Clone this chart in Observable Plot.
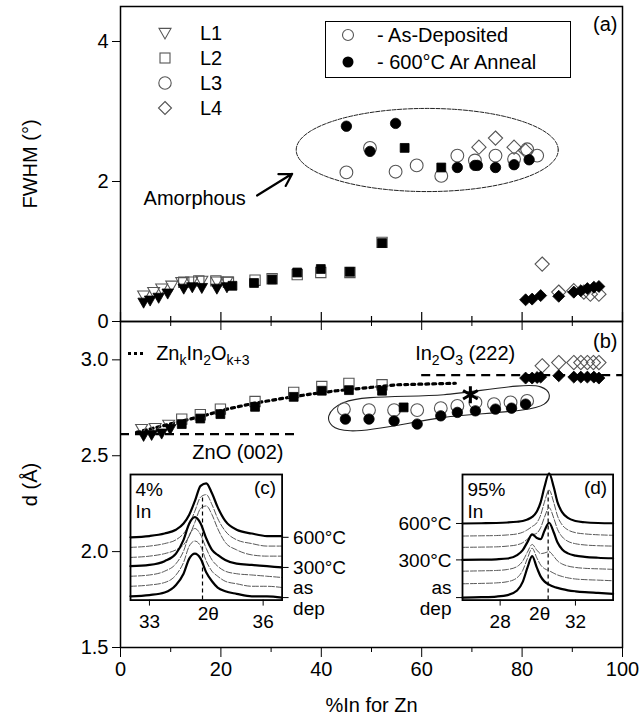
<!DOCTYPE html>
<html><head><meta charset="utf-8">
<script src="https://cdn.jsdelivr.net/npm/d3@7"></script>
<script src="https://cdn.jsdelivr.net/npm/@observablehq/plot@0.6"></script>
<style>
body{margin:0;background:#fff;font-family:"Liberation Sans",Arial,sans-serif;}
#wrap{position:relative;width:642px;height:719px;overflow:hidden;background:#fff;}
#wrap > *{position:absolute;}
sub{font-size:70%;vertical-align:-0.35em;line-height:0;}
</style></head><body><div id="wrap"></div>
<script>
// ---------------- DATA ----------------
const xDomain = [0, 100];
const xMajor = [0, 20, 40, 60, 80, 100];
const xMinor = [10, 30, 50, 70, 90];
const fwhmTicks = [0, 2, 4];
const dTicks = [1.5, 2.0, 2.5, 3.0];
const legendLabels = ["L1", "L2", "L3", "L4"];
const legendBoxLabels = ["- As-Deposited", "- 600°C Ar Anneal"];

// (a) FWHM (deg) vs %In  [ %In , FWHM ]
const fwhm_L1_asdep = [[4.6,0.37],[6.6,0.42],[8.2,0.47],[10.2,0.51],[12.2,0.56],[14.2,0.57],[16.2,0.58],[19.2,0.57],[21.2,0.57]];
const fwhm_L1_ann   = [[4.6,0.27],[5.9,0.30],[7.6,0.34],[9.4,0.40],[12.6,0.47],[14.3,0.49],[16.2,0.48],[19.2,0.47],[21.2,0.49]];
const fwhm_L2_asdep = [[12.6,0.56],[15.6,0.58],[19.0,0.58],[21.5,0.56],[26.8,0.59],[30.2,0.61],[35.2,0.67],[39.9,0.70],[45.7,0.70],[52.1,1.13]];
const fwhm_L2_ann   = [[22.3,0.51],[26.6,0.55],[30.2,0.60],[35.2,0.70],[39.9,0.75],[45.7,0.71],[52.1,1.12],[56.6,2.48],[63.9,2.20]];
const fwhm_L3_asdep = [[45.0,2.13],[49.7,2.48],[54.8,2.14],[59.0,2.23],[63.9,2.08],[67.1,2.37],[70.6,2.30],[74.7,2.37],[78.4,2.32],[81.0,2.46],[83.0,2.37]];
const fwhm_L3_ann   = [[45.0,2.79],[54.8,2.83],[49.7,2.43],[67.1,2.20],[70.6,2.23],[71.1,2.23],[74.7,2.20],[78.4,2.24],[81.4,2.31]];
const fwhm_L4_asdep = [[71.4,2.49],[74.7,2.62],[78.4,2.49],[80.7,2.44],[84.0,0.82],[87.3,0.42],[90.3,0.44],[92.3,0.42],[93.6,0.39],[95.3,0.39]];
const fwhm_L4_ann   = [[80.7,0.31],[82.0,0.32],[83.7,0.37],[87.3,0.36],[90.3,0.42],[91.7,0.44],[93.0,0.47],[94.3,0.49],[95.3,0.50]];

// (b) d-spacing (Å) vs %In  [ %In , d ]
const d_L1_asdep = [[4.2,2.639],[6.9,2.644],[9.6,2.661]];
const d_L1_ann   = [[4.6,2.604],[6.2,2.609],[8.2,2.616],[9.9,2.639]];
const d_L2_asdep = [[12.2,2.691],[15.9,2.714],[19.9,2.743],[26.8,2.783],[34.5,2.830],[40.1,2.861],[45.5,2.877],[52.1,2.870]];
const d_L2_ann   = [[12.2,2.665],[15.9,2.694],[19.9,2.717],[26.8,2.755],[34.5,2.807],[40.1,2.839],[45.5,2.842],[52.1,2.839],[56.4,2.752]];
const d_L3_asdep = [[44.5,2.743],[49.5,2.738],[54.5,2.738],[59.1,2.738],[63.8,2.748],[67.1,2.760],[70.7,2.778],[74.4,2.769],[77.7,2.778],[81.0,2.786]];
const d_L3_ann   = [[44.8,2.691],[49.5,2.691],[54.5,2.682],[59.1,2.665],[63.8,2.708],[67.1,2.726],[70.7,2.734],[74.7,2.743],[77.9,2.748],[80.7,2.769]];
const d_L4_asdep = [[84.0,2.969],[87.3,2.986],[90.3,2.986],[91.7,2.986],[93.0,2.986],[94.2,2.986],[95.3,2.986]];
const d_L4_ann   = [[80.7,2.905],[82.0,2.905],[83.0,2.908],[83.7,2.910],[87.3,2.917],[90.3,2.910],[91.7,2.910],[93.0,2.910],[94.3,2.910],[95.3,2.905]];
const d_star     = [[69.7,2.818]];
const d_ZnkIn2O  = [[3.2,2.622],[11.2,2.674],[16.5,2.708],[21.2,2.743],[26.5,2.773],[32.5,2.800],[37.8,2.821],[43.1,2.839],[49.8,2.856],[55.1,2.870],[66.7,2.878]];
const refLines   = [{name: "ZnO (002)", d: 2.613, x1: 0, x2: 35.5}, {name: "In2O3 (222)", d: 2.920, x1: 60, x2: 100}];

// annotations (data units)
const ellipseA = {cx: 61.1, cy: 2.45, rx: 26.1, ry: 0.594};
const arrowA = [{x1: 27.2, y1: 1.80, x2: 34.2, y2: 2.11}];
const textA = [{x: 4.6, y: 1.75, s: "Amorphous"}];
const clusterB = [[41.5,2.708],[44.5,2.778],[64.4,2.818],[83.7,2.859],[85.4,2.818],[84.4,2.769],[64.4,2.700],[45.8,2.630],[42.2,2.656]];
const textB = [{x: 14.3, y: 2.517, s: "ZnO (002)"}];
const labZn = {x: 7.2, y: 3.03, sampleX: [1.5, 4.5]};
const labIn = {x: 58.8, y: 3.03};

// insets: box [x%min, x%max, dmin, dmax]
const insetC_box = [2.0, 32.2, 1.745, 2.40];
const insetD_box = [68.1, 98.1, 1.745, 2.40];

// (c) 4% In, ZnO (002): 2θ grid and stacked intensities (as dep, 100..600 °C)
const c_theta = [32.5,33.0,33.4,33.7,33.9,34.05,34.2,34.35,34.5,34.65,34.8,35.0,35.3,35.7,36.1,36.5];
const c_asdep = [3,4,6,12,21,33,37,33,22,15,10,7,5,3,3,2];
const c_100   = [11,12,14,20,30,43,47,43,31,23,19,15,13,11,11,10];
const c_200   = [19,20,23,29,39,52,57,52,41,32,27,23,21,20,19,18];
const c_300   = [27,28,31,37,48,61,66,61,49,40,36,32,29,28,27,26];
const c_400   = [34,35,37,40,44,51,62,73,75,68,57,46,40,36,35,35];
const c_500   = [42,43,45,48,53,60,71,82,84,76,65,55,48,45,43,43];
const c_600   = [50,51,53,56,61,68,79,91,93,85,74,63,56,53,51,51];
const c_ticks = [33, 36];
const c_levels = [2, 26, 50];
const c_levelLabels = ["as\ndep", "300°C", "600°C"];

// (d) 95% In, In2O3 (222)
const dd_theta = [26,27,27.8,28.4,28.9,29.2,29.45,29.7,29.95,30.15,30.35,30.6,30.85,31.05,31.3,31.6,32.0,32.5,33.2,34];
const dd_asdep = [2,2.3,2.8,4,7.6,14.5,25.8,35,25.8,18.9,14.9,12.3,10.6,9.7,8.7,7.8,7,6.3,5.7,5];
const dd_100   = [13,13.3,13.7,14.7,17.8,23.7,33.2,41.3,33.6,28,25.1,23.4,21.4,20,18.8,17.7,16.8,16.3,15.9,15.4];
const dd_200   = [23,23.3,23.6,24.4,26.7,31.1,38.2,44.3,39.8,37,37.5,38.6,34.8,31.2,28.7,27.1,26,25.3,24.9,24.5];
const dd_300   = [32,32.2,32.5,33.1,35.8,39.8,46.2,52.3,49.5,48.5,55,61.6,53.8,45.8,40.3,37.2,35.4,34.4,33.7,33.3];
const dd_400   = [42,42.2,42.4,43,44,45.7,48.6,51.8,53.3,57.6,65.8,73.6,65.2,56.3,50.3,46.8,44.9,43.9,43.3,43];
const dd_500   = [51,51.2,51.4,51.9,52.7,54,56,58.6,61.6,67.6,77.9,87.6,77.6,66.9,59.8,55.9,53.7,52.7,52,51.6];
const dd_600   = [61,61.2,61.4,61.8,62.4,63,64.2,66.2,70.6,77.8,89.8,101,89.8,77.8,69.8,65.4,63,62,61.4,61.2];
const dd_ticks = [28, 32];
const dd_levels = [2, 32, 61];
const dd_levelLabels = ["as\ndep", "300°C", "600°C"];

// ---------------- DRAWING ----------------
const font = '"Liberation Sans", Arial, Helvetica, sans-serif';
const wrap = document.getElementById("wrap");
const W = 642;
const OPEN = "#555";

const triDown = {draw(ctx, size){const s = Math.sqrt(size)*0.62; ctx.moveTo(-s,-s*0.78); ctx.lineTo(s,-s*0.78); ctx.lineTo(0,s*0.98); ctx.closePath();}};
const SYM = {L1: triDown, L2: "square", L3: "circle", L4: "diamond2"};
const RO = {L1: 5.4, L2: 5.8, L3: 6.4, L4: 6.4};
const RF = {L1: 5.2, L2: 5.0, L3: 5.2, L4: 5.4};
const px = d => d[0], py = d => d[1];
const openDots = (data, L) => Plot.dot(data, {x: px, y: py, symbol: SYM[L], r: RO[L], fill: "none", stroke: OPEN, strokeWidth: 1.1});
const fillDots = (data, L) => Plot.dot(data, {x: px, y: py, symbol: SYM[L], r: RF[L], fill: "black", stroke: "black", strokeWidth: 0.8});

const ellPts = d3.range(0, 121).map(i => {const t = i/120*2*Math.PI; return [ellipseA.cx + ellipseA.rx*Math.cos(t), ellipseA.cy + ellipseA.ry*Math.sin(t)];});

const topH = 330, topMT = 6, topMB = 9;
const topChart = Plot.plot({
  width: W, height: topH, marginTop: topMT, marginBottom: topMB, marginLeft: 120, marginRight: 20,
  style: {background: "transparent", fontFamily: font, overflow: "visible", color: "black"},
  x: {domain: xDomain}, y: {domain: [0, 4.5]},
  marks: [
    Plot.line(ellPts, {x: px, y: py, stroke: "#222", strokeWidth: 1, strokeDasharray: "4,1.5"}),
    Plot.arrow(arrowA, {x1: "x1", y1: "y1", x2: "x2", y2: "y2", strokeWidth: 2.2, headLength: 11}),
    Plot.text(textA, {x: "x", y: "y", text: "s", textAnchor: "start", fontSize: 20}),
    openDots(fwhm_L1_asdep, "L1"), openDots(fwhm_L2_asdep, "L2"), openDots(fwhm_L3_asdep, "L3"), openDots(fwhm_L4_asdep, "L4"),
    fillDots(fwhm_L1_ann, "L1"), fillDots(fwhm_L2_ann, "L2"), fillDots(fwhm_L3_ann, "L3"), fillDots(fwhm_L4_ann, "L4"),
    Plot.text(["(a)"], {frameAnchor: "top-right", dx: -5, dy: 10, fontSize: 20}),
    Plot.frame({strokeWidth: 1.5}),
    Plot.axisY({ticks: fwhmTicks, tickFormat: d3.format("d"), tickSize: 8, tickPadding: 4, fontSize: 20, label: "FWHM (°)", labelAnchor: "center", labelArrow: "none", labelOffset: 98}),
    Plot.axisX({ticks: xMajor, tickSize: 9, tickFormat: () => "", label: null}),
    Plot.axisX({ticks: xMinor, tickSize: 5, tickFormat: () => "", label: null}),
    Plot.tickX(xMajor, {x: d => d, insetTop: topH - topMT - topMB - 9, strokeWidth: 1.2}),
    Plot.tickX(xMinor, {x: d => d, insetTop: topH - topMT - topMB - 5, strokeWidth: 1.2})
  ]
});
topChart.style.left = "0px"; topChart.style.top = "0px";
wrap.appendChild(topChart);

const botTop = 311, botH = 408, botMT = 10, botMB = 72;
const botChart = Plot.plot({
  width: W, height: botH, marginTop: botMT, marginBottom: botMB, marginLeft: 120, marginRight: 20,
  style: {background: "transparent", fontFamily: font, overflow: "visible", color: "black"},
  x: {domain: xDomain}, y: {domain: [1.5, 3.2]},
  marks: [
    Plot.ruleY(refLines, {y: "d", x1: "x1", x2: "x2", strokeWidth: 2.2, strokeDasharray: "9,6"}),
    Plot.line(d_ZnkIn2O, {x: px, y: py, strokeWidth: 3.2, strokeDasharray: "3,4", curve: "linear"}),
    Plot.line(clusterB, {x: px, y: py, curve: "catmull-rom-closed", stroke: "#222", strokeWidth: 1.1}),
    openDots(d_L1_asdep, "L1"), openDots(d_L2_asdep, "L2"), openDots(d_L3_asdep, "L3"), openDots(d_L4_asdep, "L4"),
    fillDots(d_L1_ann, "L1"), fillDots(d_L2_ann, "L2"), fillDots(d_L3_ann, "L3"), fillDots(d_L4_ann, "L4"),
    Plot.dot(d_star, {x: px, y: py, symbol: "asterisk", r: 8, stroke: "black", strokeWidth: 3}),
    Plot.text(textB, {x: "x", y: "y", text: "s", textAnchor: "start", fontSize: 20}),
    Plot.text(["(b)"], {frameAnchor: "top-right", dx: -5, dy: 12, fontSize: 20}),
    Plot.frame({strokeWidth: 1.5}),
    Plot.axisY({ticks: dTicks, tickFormat: d3.format(".1f"), tickSize: 8, tickPadding: 4, fontSize: 20, label: "d (Å)", labelAnchor: "center", labelArrow: "none", labelOffset: 98}),
    Plot.axisX({ticks: xMajor, tickSize: 10, tickPadding: 4, fontSize: 20, label: "%In for Zn", labelAnchor: "center", labelArrow: "none", labelOffset: 64}),
    Plot.axisX({ticks: xMinor, tickSize: 5, tickFormat: () => "", label: null})
  ]
});
botChart.style.left = "0px"; botChart.style.top = botTop + "px";
wrap.appendChild(botChart);

const bx = botChart.scale("x").apply, by = v => botTop + botChart.scale("y").apply(v);

function addEl(html, left, top, css = "") {
  const d = document.createElement("div");
  d.innerHTML = html;
  d.style.cssText = `position:absolute;left:${left}px;top:${top}px;white-space:nowrap;font-family:${font};${css}`;
  wrap.appendChild(d);
  return d;
}

// legend L1..L4
const legSym = [
  '<path d="M-6,-4.6L6,-4.6L0,6Z"/>',
  '<rect x="-5" y="-5" width="10" height="10"/>',
  '<circle r="6.2"/>',
  '<path d="M0,-6.5L6.5,0L0,6.5L-6.5,0Z"/>'
];
legendLabels.forEach((lab, i) => {
  const cy = 33 + i * 25;
  addEl(`<svg width="18" height="18" viewBox="-9 -9 18 18" style="display:block"><g fill="none" stroke="${OPEN}" stroke-width="1.1">${legSym[i]}</g></svg>`, 156, cy - 9);
  addEl(lab, 200, cy, "font-size:20px;transform:translateY(-50%);line-height:1;");
});

// legend box
addEl("", 325, 21, "width:244px;height:55px;border:1.5px solid black;");
addEl(`<svg width="14" height="14" viewBox="-7 -7 14 14" style="display:block"><circle r="5.5" fill="none" stroke="${OPEN}" stroke-width="1.1"/></svg>`, 341, 28);
addEl(`<svg width="14" height="14" viewBox="-7 -7 14 14" style="display:block"><circle r="5.5" fill="black"/></svg>`, 341, 55);
addEl(legendBoxLabels[0], 377, 35, "font-size:20px;transform:translateY(-50%);line-height:1;");
addEl(legendBoxLabels[1], 377, 62, "font-size:20px;transform:translateY(-50%);line-height:1;");

// Zn_kIn_2O_k+3 label with dotted sample, In2O3 (222) label
addEl("", bx(labZn.sampleX[0]), by(labZn.y) - 1.5, `width:${bx(labZn.sampleX[1]) - bx(labZn.sampleX[0])}px;height:0;border-top:3px dotted black;`);
addEl("Zn<sub>k</sub>In<sub>2</sub>O<sub>k+3</sub>", bx(labZn.x), by(labZn.y), "font-size:20px;transform:translateY(-55%);line-height:1;");
addEl("In<sub>2</sub>O<sub>3</sub> (222)", bx(labIn.x), by(labIn.y), "font-size:20px;transform:translateY(-55%);line-height:1;");

// insets
function makeInset(box, theta, series, ticks, levels, levelLabels, side, dashX, dashTop, thetaLabelX, tl, tr) {
  const left = bx(box[0]), right = bx(box[1]), top = by(box[3]), bottom = by(box[2]);
  const mL = side === "right" ? 2 : 74, mR = side === "right" ? 74 : 2, mT = 4, mB = 34;
  const rows = [];
  series.forEach((vals, k) => vals.forEach((v, j) => rows.push({t: theta[j], v, k, thick: k === 0 || k === 3 || k === 6})));
  const dom = [theta[0], theta[theta.length - 1]];
  const lab = levels.map((l, i) => ({v: l, s: levelLabels[i]}));
  const chart = Plot.plot({
    width: right - left + mL + mR, height: bottom - top + mT + mB,
    marginLeft: mL, marginRight: mR, marginTop: mT, marginBottom: mB,
    style: {background: "transparent", fontFamily: font, overflow: "visible", color: "black"},
    x: {domain: dom}, y: {domain: [0, 100]},
    marks: [
      Plot.ruleX([dashX], {x: d => d, y1: 0, y2: dashTop, strokeDasharray: "4,3", strokeWidth: 1.2}),
      Plot.line(rows.filter(d => !d.thick), {x: "t", y: "v", z: "k", curve: "monotone-x", stroke: "#444", strokeWidth: 0.9, strokeDasharray: "6,2"}),
      Plot.line(rows.filter(d => d.thick), {x: "t", y: "v", z: "k", curve: "monotone-x", stroke: "black", strokeWidth: 2.2}),
      Plot.frame({strokeWidth: 1.8}),
      Plot.axisX({ticks: ticks, tickFormat: d3.format("d"), tickSize: 6, tickPadding: 8, fontSize: 19, label: null}),
      Plot.axisY({anchor: side, ticks: levels, tickSize: 6, tickFormat: () => "", label: null}),
      Plot.text(lab, {x: side === "right" ? dom[1] : dom[0], y: "v", text: "s", dx: side === "right" ? 11 : -11, textAnchor: side === "right" ? "start" : "end", fontSize: 19, lineHeight: 1.1}),
      Plot.text(["2θ"], {x: thetaLabelX, frameAnchor: "bottom", dy: 20, fontSize: 19}),
      Plot.text([tl], {frameAnchor: "top-left", dx: 5, dy: 6, fontSize: 19, lineAnchor: "top", textAnchor: "start", lineHeight: 1.15}),
      Plot.text([tr], {frameAnchor: "top-right", dx: -6, dy: 6, fontSize: 19, lineAnchor: "top", textAnchor: "end"})
    ]
  });
  chart.style.left = (left - mL) + "px";
  chart.style.top = (top - mT) + "px";
  wrap.appendChild(chart);
}
makeInset(insetC_box, c_theta, [c_asdep, c_100, c_200, c_300, c_400, c_500, c_600], c_ticks, c_levels, c_levelLabels, "right", 34.4, 82, 34.55, "4%\nIn", "(c)");
makeInset(insetD_box, dd_theta, [dd_asdep, dd_100, dd_200, dd_300, dd_400, dd_500, dd_600], dd_ticks, dd_levels, dd_levelLabels, "left", 30.55, 88, 30.1, "95%\nIn", "(d)");
</script></body></html>
